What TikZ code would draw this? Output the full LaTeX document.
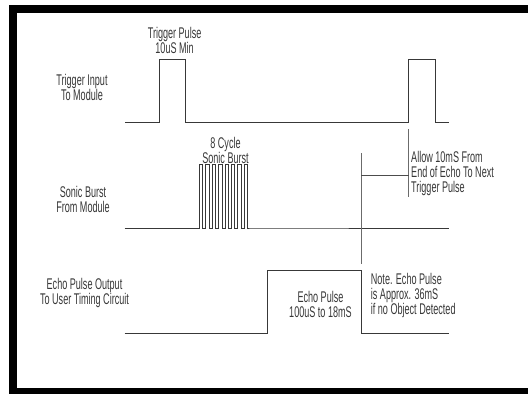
\documentclass[tikz,border=0pt]{standalone}
\usepackage{fontspec}
\setmainfont[FakeStretch=0.585]{Liberation Sans}
\definecolor{ink}{gray}{0.22}
\definecolor{guide}{gray}{0.42}
\tikzset{
  signal/.style={draw=ink,line width=1pt,line join=miter},
  marker/.style={draw=guide,line width=1pt},
  span/.style={draw=ink!90,line width=0.9pt},
  lab/.style={text=ink,inner sep=0pt,font=\fontsize{15.5}{15}\selectfont},
  clab/.style={lab,align=center,anchor=center},
  llab/.style={lab,align=left,anchor=west}
}
\begin{document}
\begin{tikzpicture}[x=1pt,y=-1pt]
\useasboundingbox (0,0) rectangle (528,394);
\fill[white] (0,0) rectangle (528,394);
% frame (open on the right)
\fill[black] (8.5,5.3) rectangle (528,13);
\fill[black] (8.5,5.3) rectangle (16.7,394);
\fill[black] (8.5,388.3) rectangle (528,394);
% signals
\draw[signal] (125,122) -- (159,122) -- (159,59.7) -- (185.5,59.7) -- (185.5,122)
  -- (408.5,122) -- (408.5,59.7) -- (435.5,59.7) -- (435.5,122) -- (448.5,122);
\draw[signal] (124.5,228) -- (199.5,228)
  \foreach \i in {0,...,7} {
    -- ({199.5+6.4*\i},164) -- ({199.5+6.4*\i+3.4},164)
    -- ({199.5+6.4*\i+3.4},228) -- ({199.5+6.4*(\i+1)},228)
    }
  -- (448.5,228);
\draw[signal] (124.5,333.3) -- (267,333.3) -- (267,270.5) -- (361,270.5) -- (361,333.3) -- (448.5,333.3);
% markers
\coordinate (m1a) at (361,153);
\coordinate (m1b) at (361,264);
\coordinate (m2a) at (408.5,129);
\coordinate (m2b) at (408.5,197);
\coordinate (s1) at (361,175);
\coordinate (s2) at (408.5,175);
\draw[marker] (m1a) -- (m1b);
\draw[marker] (m2a) -- (m2b);
\draw[span] (s1) -- (s2);
% labels
\node[clab] (tp) at (174.6,40.5) {Trigger Pulse\\10uS Min};
\node[clab] (ti) at (82,87.5) {Trigger Input\\To Module};
\node[clab] (cb) at (225.5,150.5) {8 Cycle\\Sonic Burst};
\node[clab] (sb) at (83,199) {Sonic Burst\\From Module};
\node[clab] (ep) at (84.5,293) {Echo Pulse Output\\To User Timing Circuit};
\node[clab] (ew) at (320.5,304) {Echo Pulse\\100uS to 18mS};
\node[llab] (nt) at (370.7,295) {Note. Echo Pulse\\is Approx. 36mS\\if no Object Detected};
\node[llab] (al) at (411,173.5) {Allow 10mS From\\End of Echo To Next\\Trigger Pulse};
\end{tikzpicture}
\end{document}
